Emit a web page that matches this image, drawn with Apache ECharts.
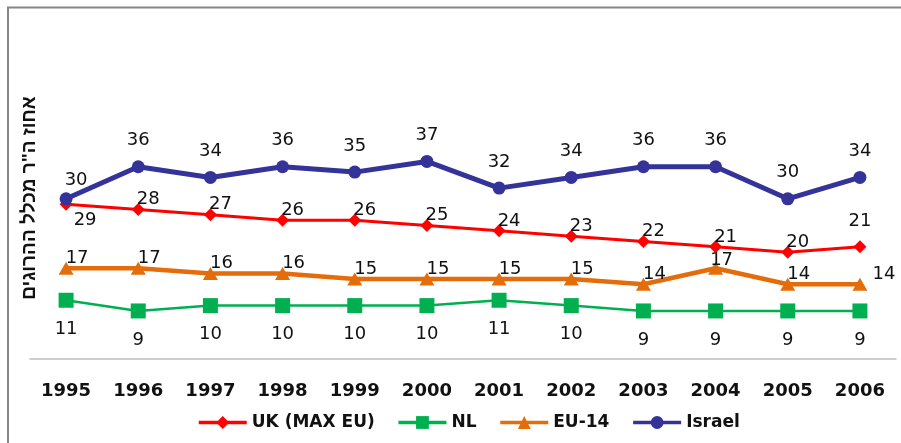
<!DOCTYPE html>
<html>
<head>
<meta charset="utf-8">
<script src="https://cdn.jsdelivr.net/npm/echarts@6/dist/echarts.min.js"></script>
<style>
  html, body { margin: 0; padding: 0; background: #fff; }
  #chart { width: 901px; height: 443px; }
</style>
</head>
<body>
<div id="chart"></div>
<script>
// Share of road deaths (%) by year
const years = ['1995', '1996', '1997', '1998', '1999', '2000', '2001', '2002', '2003', '2004', '2005', '2006'];
const ukValues = [29, 28, 27, 26, 26, 25, 24, 23, 22, 21, 20, 21];
const nlValues = [11, 9, 10, 10, 10, 10, 11, 10, 9, 9, 9, 9];
const eu14Values = [17, 17, 16, 16, 15, 15, 15, 15, 14, 17, 14, 14];
const israelValues = [30, 36, 34, 36, 35, 37, 32, 34, 36, 36, 30, 34];

const FONT = 'DejaVu Sans';

// Build data items, letting a few points carry their own label offset
function withOffsets(values, overrides) {
  return values.map((v, i) => overrides[i]
    ? { value: v, label: { offset: overrides[i] } }
    : v);
}

const labelBase = {
  show: true,
  position: 'inside',
  fontFamily: FONT,
  fontSize: 18,
  color: '#111'
};

const chart = echarts.init(document.getElementById('chart'));
chart.setOption({
  animation: false,
  backgroundColor: '#fff',
  grid: { left: 30, right: 5, top: 92, bottom: 84 },
  xAxis: {
    type: 'category',
    data: years,
    boundaryGap: true,
    axisTick: { show: false },
    axisLine: { lineStyle: { color: '#bdbdbd', width: 1.5 } },
    axisLabel: {
      margin: 23,
      fontFamily: FONT,
      fontWeight: 'bold',
      fontSize: 18,
      color: '#111'
    }
  },
  yAxis: {
    type: 'value',
    min: 0,
    max: 50,
    show: false,
    splitLine: { show: false }
  },
  legend: {
    left: 192,
    top: 409,
    itemWidth: 48,
    itemHeight: 16,
    itemGap: 22,
    lineStyle: { width: 3.5 },
    textStyle: { fontFamily: FONT, fontWeight: 'bold', fontSize: 17, color: '#111' },
    data: ['UK (MAX EU)', 'NL', 'EU-14', 'Israel']
  },
  graphic: [
    {
      type: 'rect',
      shape: { x: 8, y: 7.5, width: 920, height: 460 },
      style: { fill: 'none', stroke: '#868686', lineWidth: 2 },
      silent: true
    },
    {
      type: 'text',
      x: 30,
      y: 198,
      rotation: Math.PI / 2,
      style: {
        text: 'אחוז ה"ר מכלל ההרוגים',
        fontFamily: 'Liberation Sans',
        fontWeight: 'bold',
        fontSize: 19,
        fill: '#111',
        align: 'center',
        verticalAlign: 'middle'
      },
      silent: true
    }
  ],
  series: [
    {
      name: 'UK (MAX EU)',
      type: 'line',
      data: withOffsets(ukValues, { 0: [19, 16], 11: [0, -26] }),
      color: '#ff0000',
      lineStyle: { width: 3 },
      symbol: 'diamond',
      symbolSize: 13,
      label: Object.assign({}, labelBase, { offset: [10, -10] }),
      z: 3
    },
    {
      name: 'NL',
      type: 'line',
      data: nlValues,
      color: '#00b050',
      lineStyle: { width: 2.5 },
      symbol: 'rect',
      symbolSize: 15,
      label: Object.assign({}, labelBase, { offset: [0, 29] }),
      z: 2
    },
    {
      name: 'EU-14',
      type: 'line',
      data: withOffsets(eu14Values, { 9: [6, -8], 11: [24, -10] }),
      color: '#e46c0a',
      lineStyle: { width: 4.5 },
      symbol: 'triangle',
      symbolSize: [15, 13],
      label: Object.assign({}, labelBase, { offset: [11, -10] }),
      z: 2
    },
    {
      name: 'Israel',
      type: 'line',
      data: withOffsets(israelValues, { 0: [10, -18] }),
      color: '#333399',
      lineStyle: { width: 5 },
      symbol: 'circle',
      symbolSize: 13,
      label: Object.assign({}, labelBase, { offset: [0, -26] }),
      z: 4
    }
  ]
});
</script>
</body>
</html>
